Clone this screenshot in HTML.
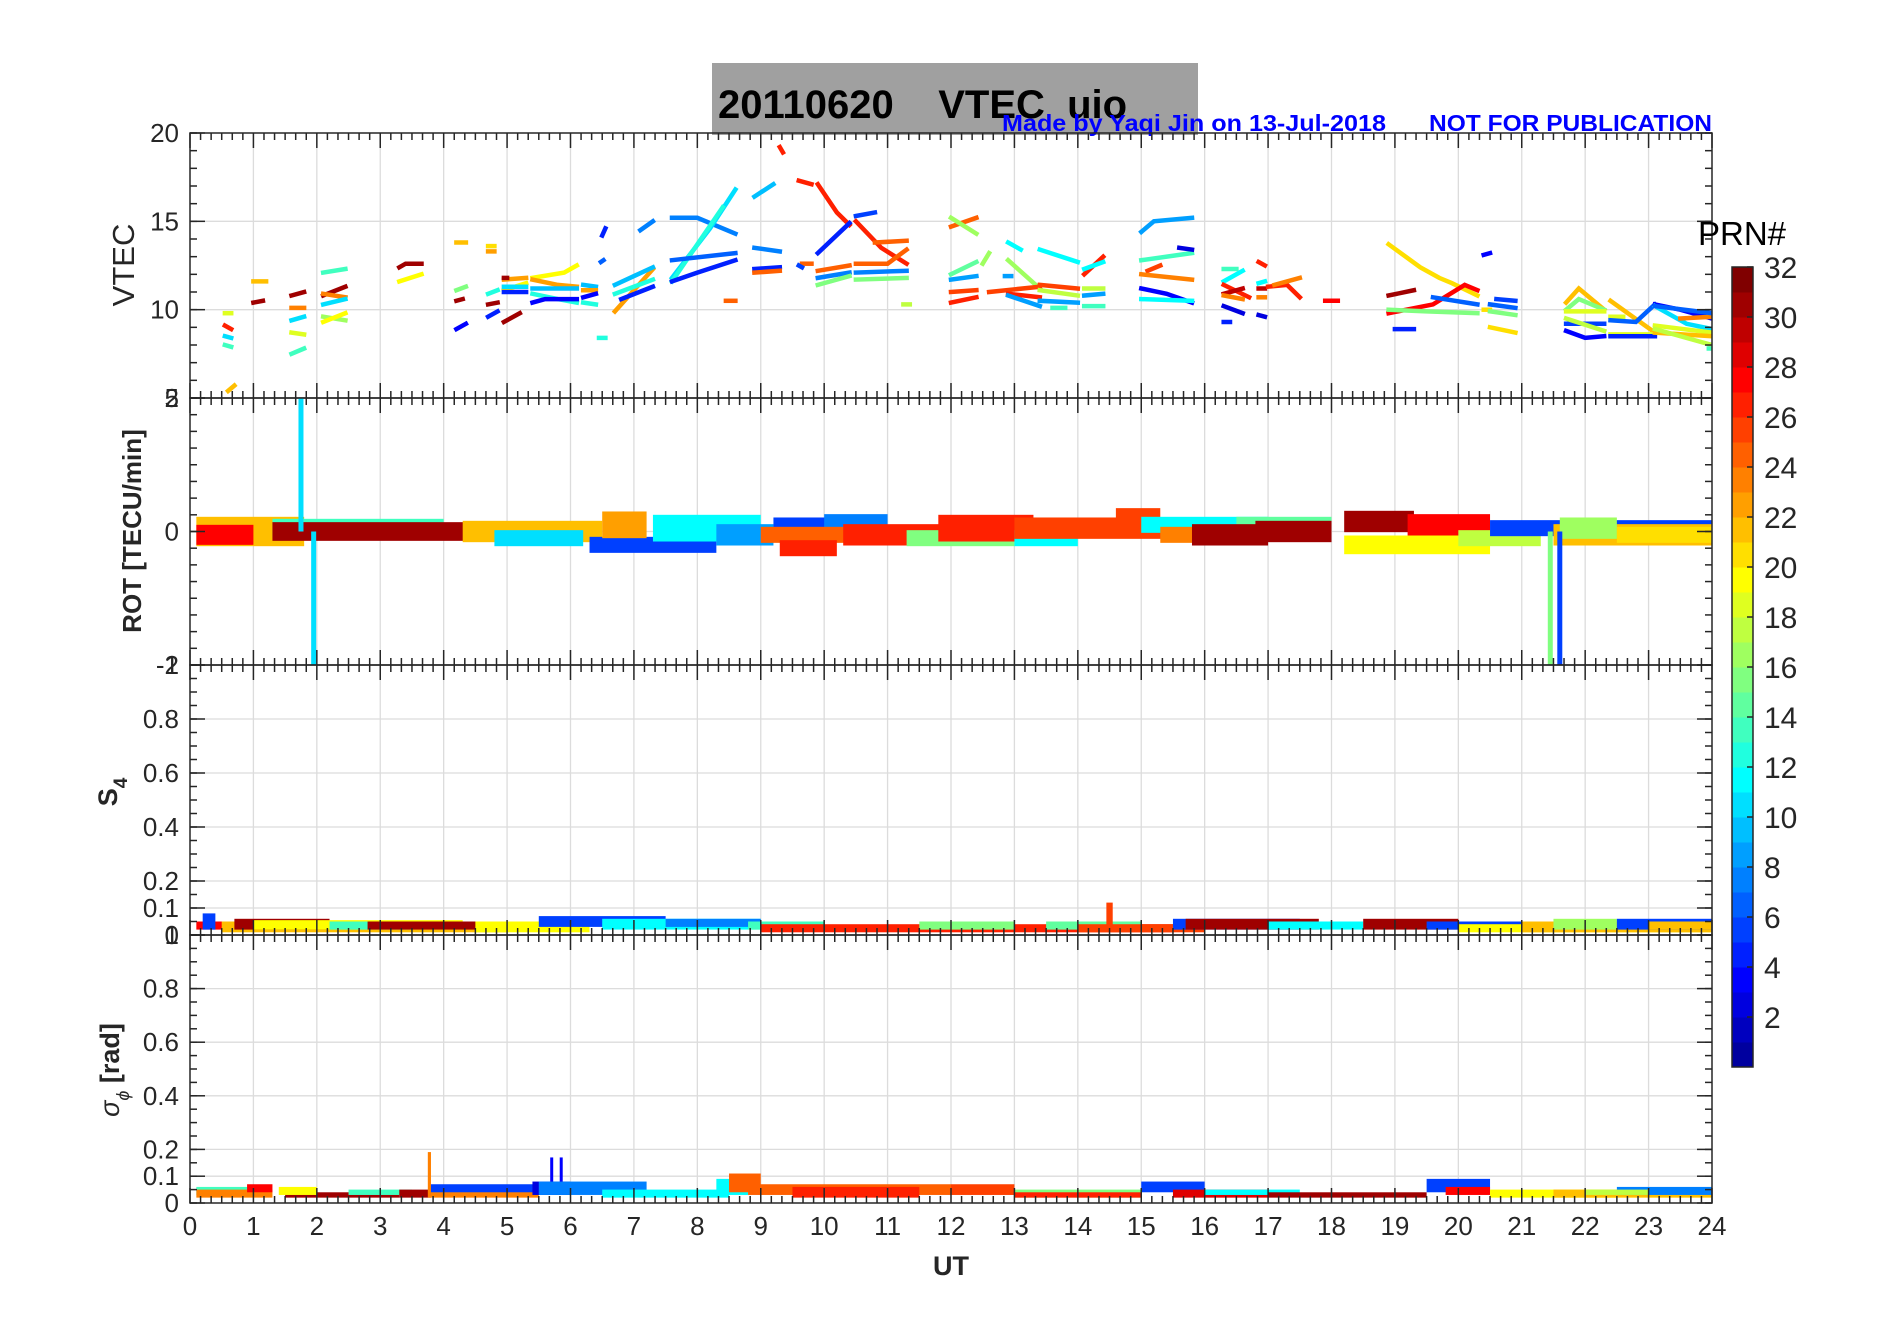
<!DOCTYPE html>
<html><head><meta charset="utf-8"><style>
html,body{margin:0;padding:0;background:#fff;}
svg{display:block;font-family:"Liberation Sans",Arial,sans-serif;}
</style></head><body>
<svg id="fig" width="1902" height="1330" viewBox="0 0 1902 1330" xmlns="http://www.w3.org/2000/svg">
<rect x="712" y="63" width="486" height="72" fill="#a0a0a0"/>
<text x="718" y="118" font-size="40" font-weight="bold" fill="#000" xml:space="preserve">20110620    VTEC  uio</text>
<text x="1002" y="131" font-size="23" font-weight="bold" fill="#0000ff" textLength="384" lengthAdjust="spacingAndGlyphs">Made by Yaqi Jin on 13-Jul-2018</text>
<text x="1429" y="131" font-size="23" font-weight="bold" fill="#0000ff" textLength="283" lengthAdjust="spacingAndGlyphs">NOT FOR PUBLICATION</text>
<g id="panels"></g>
<g id="cbar"></g>
</svg>
<script>
// ---- data ----
const xTicks = [0,1,2,3,4,5,6,7,8,9,10,11,12,13,14,15,16,17,18,19,20,21,22,23,24];
const vtecTicks = [5,10,15,20];
const rotTicks = [-2,0,2];
const s4Ticks = [0,0.1,0.2,0.4,0.6,0.8,1];
const sigTicks = [0,0.1,0.2,0.4,0.6,0.8,1];
const cbarTicks = [2,4,6,8,10,12,14,16,18,20,22,24,26,28,30,32];
// VTEC segments: [prn, t0,v0, t1,v1, ...]
const vtecSegs = [
[27,0.55,9.1,0.65,8.9],[19,0.55,9.8,0.65,9.8],[11,0.55,8.5,0.65,8.4],[14,0.55,8.0,0.65,7.9],[22,0.6,5.4,0.7,5.7],
[22,1.0,11.6,1.2,11.6],[31,1.0,10.4,1.15,10.5],
[31,1.6,10.8,1.8,11.0],[24,1.6,10.1,1.8,10.1],[11,1.6,9.4,1.8,9.6],[19,1.6,8.7,1.8,8.6],[14,1.6,7.5,1.8,7.8],
[14,2.1,12.1,2.45,12.3],[31,2.1,10.8,2.45,11.3],[24,2.1,10.9,2.45,10.7],[11,2.1,10.3,2.45,10.6],[17,2.1,9.6,2.45,9.4],[20,2.1,9.3,2.45,9.8],
[31,3.3,12.4,3.4,12.6,3.65,12.6],[20,3.3,11.6,3.65,12.0],
[22,4.2,13.8,4.35,13.8],[16,4.2,11.1,4.35,11.3],[31,4.2,10.5,4.3,10.6],[4,4.2,8.9,4.35,9.2],
[21,4.7,13.6,4.8,13.6],[23,4.7,13.3,4.8,13.3],[13,4.7,10.9,4.85,11.1],[31,4.7,10.3,4.85,10.4],[5,4.7,9.6,4.85,9.9],
[23,4.95,11.7,5.3,11.8],[31,4.95,11.8,5.0,11.8],[20,4.95,11.1,5.3,11.5],[5,4.95,11.0,5.3,11.0],[11,4.95,11.3,5.3,11.3],[31,4.95,9.3,5.2,9.8],
[20,5.4,11.8,5.9,12.1,6.1,12.5],[23,5.4,11.7,5.8,11.4,6.1,11.3],[10,5.4,11.2,6.1,11.2],[13,5.4,10.9,5.8,10.6,6.1,10.4],[4,5.4,10.4,5.6,10.6,6.1,10.6],
[10,6.2,11.4,6.4,11.3],[23,6.2,11.1,6.4,11.1],[5,6.5,14.2,6.55,14.6],[13,6.2,10.4,6.4,10.3],[13,6.45,8.4,6.55,8.4],[4,6.2,10.7,6.4,10.9],[7,6.48,12.7,6.52,12.8],
[23,6.7,9.9,7.3,12.3],[10,6.7,11.4,7.3,12.4],[13,6.7,10.9,7.3,11.7],[5,6.8,10.6,7.3,11.3],[8,7.1,14.5,7.3,15.0],
[8,7.6,15.2,8.0,15.2,8.6,14.3],[11,7.6,11.8,8.2,14.6,8.6,16.8],[13,7.6,11.6,8.4,15.8],[7,7.6,12.8,8.6,13.2],[5,7.6,11.6,8.0,12.1,8.6,12.8],[25,8.45,10.5,8.6,10.5],
[10,8.9,16.4,9.2,17.1],[8,8.9,13.5,9.3,13.3],[5,8.9,12.3,9.3,12.4],[25,8.9,12.1,9.3,12.2],[27,9.3,19.2,9.35,18.9],[27,9.6,17.3,9.8,17.1],[25,9.65,12.6,9.8,12.6],[6,9.6,12.5,9.65,12.4],
[27,9.9,17.1,10.2,15.5,10.4,14.8],[5,9.9,13.2,10.4,14.9],[25,9.9,12.2,10.4,12.5],[8,9.9,11.8,10.4,12.1],[16,9.9,11.4,10.4,11.9],
[6,10.5,15.3,10.8,15.5],[27,10.5,15.0,10.9,13.5,11.3,12.6],[25,10.8,13.8,11.3,13.9],[25,10.5,12.6,11.0,12.6,11.3,13.4],[8,10.5,12.1,11.3,12.2],[16,10.5,11.7,11.3,11.8],[18,11.25,10.3,11.35,10.3],
[25,12.0,14.7,12.4,15.2],[17,12.0,15.2,12.4,14.3],[15,12.0,12.0,12.4,12.7],[9,12.0,11.7,12.4,11.9],[26,12.0,11.0,12.4,11.1],[27,12.0,10.4,12.4,10.7],
[17,12.5,12.6,12.6,13.2],[12,12.9,13.8,13.1,13.4],[17,12.9,12.8,13.4,11.2],[9,12.85,11.9,12.95,11.9],[26,12.6,11.0,13.4,11.3],[27,12.9,10.9,13.4,10.7],[9,12.9,10.8,13.4,10.2],
[12,13.4,13.4,14.0,12.7],[26,13.4,11.4,14.0,11.2],[18,13.4,11.1,14.0,10.8],[9,13.4,10.5,14.0,10.4],[14,13.6,10.1,13.8,10.1],
[27,14.1,12.0,14.4,13.0],[12,14.1,12.3,14.4,12.7],[18,14.1,11.2,14.4,11.2],[9,14.1,10.8,14.4,10.9],[14,14.1,10.2,14.4,10.2],
[9,15.0,14.4,15.2,15.0,15.8,15.2],[14,15.0,12.8,15.8,13.2],[26,15.1,12.2,15.3,12.5],[3,15.6,13.5,15.8,13.4],[24,15.0,12.0,15.8,11.7],[4,15.0,11.2,15.4,10.9,15.8,10.4],[12,15.0,10.6,15.8,10.5],
[14,16.3,12.3,16.5,12.3],[12,16.3,11.6,16.6,12.2],[27,16.3,11.4,16.7,10.7],[30,16.3,10.9,16.6,11.2],[24,16.3,10.8,16.6,10.6],[3,16.3,10.2,16.6,9.8],[5,16.3,9.3,16.4,9.3],
[27,16.85,12.7,16.95,12.5],[30,16.85,11.2,16.95,11.2],[12,16.85,11.5,16.95,11.6],[24,16.85,10.7,16.95,10.7],[3,16.85,9.7,16.95,9.6],
[27,17.0,11.3,17.3,11.4,17.5,10.7],[24,17.1,11.4,17.5,11.8],[28,17.9,10.5,18.1,10.5],
[21,18.9,13.7,19.4,12.4,19.7,11.8,19.9,11.5,20.3,10.8],[31,18.9,10.8,19.3,11.1],[28,18.9,9.8,19.6,10.3,20.1,11.4,20.3,11.1],[16,18.9,10.0,19.5,9.9,20.3,9.8],[7,19.6,10.7,20.3,10.3],[5,19.0,8.9,19.3,8.9],
[21,20.4,10.0,20.5,10.0],[7,20.5,10.3,20.9,10.1],[16,20.5,9.9,20.9,9.7],[21,20.5,9.0,20.9,8.7],[4,20.4,13.1,20.5,13.2],[6,20.6,10.6,20.9,10.5],
[22,21.7,10.4,21.9,11.2,22.3,10.0],[16,21.7,10.0,21.9,10.6,22.3,10.0],[19,21.7,9.9,22.3,9.9],[6,21.7,9.2,22.3,9.2],[18,21.7,9.5,22.3,8.8],[4,21.7,8.8,22.0,8.4,22.3,8.5],
[22,22.4,10.5,23.1,8.7],[19,22.4,9.6,22.6,9.6],[7,22.4,9.4,22.8,9.3,23.1,10.3],[19,22.4,8.6,23.1,8.6],[5,22.4,8.5,23.1,8.5],
[4,23.1,10.3,23.5,10.0,24,9.5],[11,23.1,10.2,23.6,9.2,24,8.9],[19,23.1,9.1,24,8.7],[22,23.1,8.7,24,8.5],[18,23.1,8.9,23.8,8.2,24,8.0],[24,23.5,9.5,24,9.6],[7,23.1,10.2,24,9.8],[14,23.95,7.8,24,7.8]
];
// ROT bands: [prn, t0, t1, center, halfwidth]
const rotSegs = [
[22,0.1,1.8,0.0,0.22],[28,0.1,1.0,-0.05,0.15],[14,1.3,4.0,0.05,0.14],[31,1.3,5.2,0.0,0.14],
[22,4.3,6.5,0.0,0.16],[11,4.8,6.2,-0.1,0.12],[6,6.3,8.3,-0.2,0.12],[23,6.5,7.2,0.1,0.2],
[12,7.3,9.0,0.05,0.2],[9,8.3,9.2,-0.05,0.16],[6,9.2,10.5,0.05,0.16],[8,10.0,11.0,0.1,0.16],
[25,9.0,10.5,-0.05,0.12],[27,9.3,10.2,-0.25,0.12],[27,10.3,12.0,-0.05,0.16],[16,11.3,13.0,-0.1,0.12],
[27,11.8,13.3,0.05,0.2],[12,13.0,14.0,-0.1,0.12],[26,13.0,15.4,0.05,0.16],[26,14.6,15.3,0.15,0.2],
[12,15.0,17.0,0.1,0.12],[24,15.3,16.5,-0.05,0.12],[15,16.5,18.0,0.1,0.12],[31,15.8,17.0,-0.05,0.16],
[31,16.8,18.0,0.0,0.16],[31,18.2,19.3,0.15,0.16],[20,18.2,20.5,-0.2,0.14],[28,19.2,20.5,0.1,0.16],
[18,20.0,21.3,-0.1,0.12],[6,20.5,24,0.05,0.12],[22,21.5,24,-0.05,0.16],[17,21.6,22.5,0.05,0.16],[21,22.5,24,-0.05,0.12]
];
// ROT spikes: [prn, t, from, to]
const rotSpikes = [[11,1.75,0,2.5],[11,1.95,0,-2.5],[16,21.45,0,-2.5],[6,21.6,0,-2.5]];
// S4 bands: [prn, t0, t1, lo, hi]
const s4Segs = [
[28,0.1,1.0,0.02,0.05],[6,0.2,0.4,0.02,0.08],[22,0.5,5.0,0.01,0.05],[31,0.7,2.2,0.02,0.06],
[20,1.0,4.3,0.02,0.055],[14,2.2,3.5,0.02,0.05],[31,2.8,5.0,0.02,0.05],[20,4.5,6.3,0.01,0.05],
[6,5.5,7.5,0.03,0.07],[12,6.5,9.0,0.02,0.06],[8,7.5,9.0,0.03,0.06],[14,8.8,10.0,0.02,0.05],
[27,9.0,15.5,0.01,0.04],[16,11.5,13.0,0.02,0.05],[15,13.5,15.0,0.02,0.05],[26,14.0,16.0,0.01,0.04],[26,14.45,14.55,0.02,0.12],
[6,15.5,17.5,0.02,0.06],[31,15.7,17.8,0.02,0.06],[12,17.0,18.5,0.02,0.05],[31,18.5,20.0,0.02,0.06],
[6,19.5,21.0,0.02,0.05],[20,20.0,24,0.01,0.04],[22,21.0,24,0.01,0.05],[17,21.5,22.5,0.02,0.06],[6,22.5,24,0.02,0.06],[22,23,24,0.02,0.05]
];
// sigma-phi bands: [prn, t0, t1, lo, hi]
const sigSegs = [
[14,0.1,1.0,0.03,0.06],[24,0.1,1.3,0.02,0.05],[28,0.9,1.3,0.04,0.07],[31,1.5,3.3,0.02,0.04],[20,1.4,2.0,0.03,0.06],
[14,2.5,3.5,0.03,0.05],[31,3.3,3.8,0.02,0.05],[24,3.75,3.8,0.02,0.19],[6,3.8,5.5,0.03,0.07],[24,3.8,5.5,0.02,0.04],
[3,5.4,6.0,0.03,0.08],[4,5.68,5.72,0.03,0.17],[4,5.83,5.87,0.03,0.17],[8,5.5,7.2,0.03,0.08],[12,6.5,8.5,0.02,0.05],
[12,8.3,8.8,0.03,0.09],[25,8.5,9.0,0.04,0.11],[25,8.8,12.0,0.03,0.07],[27,9.5,11.5,0.02,0.06],[26,12.0,13.0,0.03,0.07],
[16,13.0,15.0,0.02,0.05],[27,13.0,15.0,0.02,0.04],[6,15.0,16.0,0.04,0.08],[29,15.5,17.0,0.02,0.05],[12,16.0,17.5,0.03,0.05],
[31,17.0,19.5,0.02,0.04],[6,19.5,20.5,0.04,0.09],[28,19.8,20.5,0.03,0.06],[20,20.5,22.5,0.02,0.05],[22,21.5,24,0.02,0.05],
[8,22.5,24,0.03,0.06],[18,22.0,23.0,0.03,0.05]
];

// ---- layout ----
const NS = "http://www.w3.org/2000/svg";
const L = 190, R = 1712;
function mk(tag, attrs, parent){ const e = document.createElementNS(NS, tag); for (const k in attrs) e.setAttribute(k, attrs[k]); parent.appendChild(e); return e; }
function jet(m){
  const n = Math.ceil(m/4), u = [];
  for (let i=1;i<=n;i++) u.push(i/n);
  for (let i=1;i<n;i++) u.push(1);
  for (let i=n;i>=1;i--) u.push(i/n);
  const g0 = Math.ceil(n/2) - (m%4===1?1:0);
  const J = []; for (let i=0;i<m;i++) J.push([0,0,0]);
  u.forEach((v,i)=>{ const g=g0+i+1, r=g+n, b=g-n;
    if (g>=1&&g<=m) J[g-1][1]=v; if (r>=1&&r<=m) J[r-1][0]=v; if (b>=1&&b<=m) J[b-1][2]=v; });
  return J.map(c=>`rgb(${Math.round(c[0]*255)},${Math.round(c[1]*255)},${Math.round(c[2]*255)})`);
}
const CM = jet(32);
const col = p => CM[Math.min(32,Math.max(1,p))-1];
const xS = t => L + (R-L)*t/24;

const panels = [
  {name:'vtec', top:133, bot:398, lo:5, hi:20, ticks:vtecTicks, minor:1},
  {name:'rot', top:398, bot:665, lo:-2, hi:2, ticks:rotTicks, minor:0.25},
  {name:'s4', top:665, bot:935, lo:0, hi:1, ticks:s4Ticks, minor:0.05},
  {name:'sigma', top:935, bot:1203, lo:0, hi:1, ticks:sigTicks, minor:0.05}
];
const root = document.getElementById('panels');
panels.forEach((p,pi)=>{
  const yS = v => p.bot - (p.bot-p.top)*(v-p.lo)/(p.hi-p.lo);
  const g = mk('g', {}, root);
  
  
  const cp = mk('clipPath', {id:'clip'+pi}, g);
  mk('rect', {x:L, y:p.top, width:R-L, height:p.bot-p.top}, cp);
  const grid = mk('g', {stroke:'#dcdcdc','stroke-width':1.3}, g);
  
  
  xTicks.forEach(t=>{ if(t>0&&t<24) mk('line',{x1:xS(t),x2:xS(t),y1:p.top,y2:p.bot},grid); });
  p.ticks.forEach(v=>{ if(v>p.lo&&v<p.hi) mk('line',{x1:L,x2:R,y1:yS(v),y2:yS(v)},grid); });
  const dg = mk('g', {'clip-path':`url(#clip${pi})`}, g);
  
  
  if (p.name==='vtec'){
    vtecSegs.forEach(s=>{
      const pts=[]; for(let i=1;i<s.length;i+=2) pts.push(xS(s[i]).toFixed(1)+','+yS(s[i+1]).toFixed(1));
      const e = mk('polyline',{points:pts.join(' '),fill:'none',stroke:col(s[0]),'stroke-width':4.5,'stroke-linecap':'square'},dg);
      
      
    });
  } else if (p.name==='rot'){
    rotSegs.forEach(s=>{
      const e = mk('rect',{x:xS(s[1]),y:yS(s[3]+s[4]),width:xS(s[2])-xS(s[1]),height:yS(s[3]-s[4])-yS(s[3]+s[4]),fill:col(s[0])},dg);
      
      
    });
    rotSpikes.forEach(s=>{
      const e = mk('line',{x1:xS(s[1]),x2:xS(s[1]),y1:yS(s[2]),y2:yS(s[3]),stroke:col(s[0]),'stroke-width':5},dg);
      
      
    });
  } else {
    const segs = p.name==='s4'? s4Segs : sigSegs;
    segs.forEach(s=>{
      const e = mk('rect',{x:xS(s[1]),y:yS(s[4]),width:Math.max(3,xS(s[2])-xS(s[1])),height:yS(s[3])-yS(s[4]),fill:col(s[0])},dg);
      
      
    });
  }
  const ax = mk('g',{stroke:'#262626','stroke-width':1.5,fill:'none'},g);
  
  
  mk('rect',{x:L,y:p.top,width:R-L,height:p.bot-p.top},ax);
  for (let m=0;m<=144;m++){ const t=m/6, x=xS(t), len = (m%6===0)?15:7;
    mk('line',{x1:x,x2:x,y1:p.bot,y2:p.bot-len},ax); mk('line',{x1:x,x2:x,y1:p.top,y2:p.top+len},ax); }
  const nm = Math.round((p.hi-p.lo)/p.minor);
  for (let k=0;k<=nm;k++){ const v=p.lo+k*p.minor, y=yS(v);
    mk('line',{x1:L,x2:L+7,y1:y,y2:y},ax); mk('line',{x1:R,x2:R-7,y1:y,y2:y},ax); }
  p.ticks.forEach(v=>{ const y=yS(v); mk('line',{x1:L,x2:L+15,y1:y,y2:y},ax); mk('line',{x1:R,x2:R-15,y1:y,y2:y},ax); });
  const tl = mk('g',{'font-size':26,fill:'#262626','text-anchor':'end'},g);
  
  
  p.ticks.forEach(v=>{ const t = mk('text',{x:179,y:yS(v)+9},tl); t.textContent = String(v); });
});
const xl = mk('g',{'font-size':26,fill:'#262626','text-anchor':'middle'},root);


xTicks.forEach(t=>{ const e=mk('text',{x:xS(t),y:1235},xl); e.textContent=String(t); });
const ut = mk('text',{x:(L+R)/2,y:1275,'font-size':27,'font-weight':'bold','text-anchor':'middle',fill:'#262626'},root);
ut.textContent='UT';


function ytitle(name, x, y, html, size, bold){
  const t = mk('text',{x:x,y:y,transform:`rotate(-90 ${x} ${y})`,'text-anchor':'middle','font-size':size,'font-weight':bold?'bold':'normal',fill:'#262626'},root);
  t.innerHTML = html;
  
  
}
ytitle('vtec-y-title',134,265,'VTEC',31,false);
ytitle('rot-y-title',141,531,'ROT [TECU/min]',26,true);
ytitle('s4-y-title',117,792,'S<tspan font-size="19" dy="10">4</tspan>',27,true);
ytitle('sigma-y-title',119,1070,'<tspan font-style="italic" font-weight="normal">σ</tspan><tspan font-size="18" dy="10" font-style="italic" font-weight="normal">ϕ</tspan><tspan dy="-10"> [rad]</tspan>',27,true);
const cb = document.getElementById('cbar');


const cTop=267, cBot=1067, cX=1732, cW=21;
const cY = v => cBot - (cBot-cTop)*v/32;
for (let k=1;k<=32;k++){
  const r = mk('rect',{x:cX,y:cY(k),width:cW,height:cY(k-1)-cY(k)+0.5,fill:col(k)},cb);
  
  
}
mk('rect',{x:cX,y:cTop,width:cW,height:cBot-cTop,fill:'none',stroke:'#262626','stroke-width':1.5},cb);
cbarTicks.forEach(v=>{ const y=cY(v);
  mk('line',{x1:cX+cW-6,x2:cX+cW,y1:y,y2:y,stroke:'#262626','stroke-width':1.5},cb);
  const t = mk('text',{x:1764,y:y+11,'font-size':30,fill:'#262626'},cb); t.textContent=String(v); });
const prn = mk('text',{x:1698,y:245,'font-size':33,fill:'#000'},cb);
prn.textContent='PRN#';


</script>
</body></html>
